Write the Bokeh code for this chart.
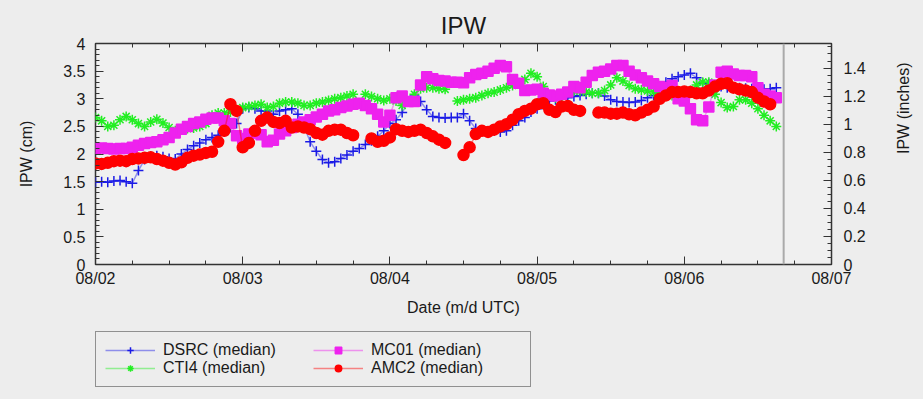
import numpy as np
from bokeh.plotting import figure
from bokeh.layouts import column
from bokeh.models import (ColumnDataSource, LinearAxis, Range1d, FixedTicker, Span,
                          Legend, LegendItem, CustomJSTickFormatter)
from bokeh.embed import file_html
from bokeh.resources import INLINE

nan = float("nan")

# time axis: hours since 08/02 00 UTC
hours = list(range(112))
day_ticks = [0, 24, 48, 72, 96, 120]
day_labels = ["08/02", "08/03", "08/04", "08/05", "08/06", "08/07"]
minor_ticks = list(range(0, 121, 6))
now_hour = 112.2

cm_ticks = [0, 0.5, 1, 1.5, 2, 2.5, 3, 3.5, 4]
inch_ticks = [0, 0.2, 0.4, 0.6, 0.8, 1.0, 1.2, 1.4]

dsrc = [1.49, 1.50, 1.49, 1.51, 1.52, 1.50, 1.47, 1.70, 1.90, 1.95,
        1.97, 1.95, 1.92, 1.91, 2.00, 2.08, 2.15, 2.20, 2.26, 2.30,
        2.34, 2.40, 2.48, 2.55, 2.82, 2.84, 2.82, 2.78, 2.78, 2.72,
        2.78, 2.80, 2.82, 2.72, 2.50, 2.22, 2.05, 1.90, 1.84, 1.86,
        1.92, 1.98, 2.05, 2.10, 2.17, 2.24, 2.32, 2.42, 2.55, 2.62,
        2.75, 2.95, 3.05, 2.95, 2.80, 2.68, 2.66, 2.65, 2.66, 2.66,
        2.73, 2.60, 2.46, 2.42, 2.41, 2.42, 2.40, 2.42, 2.52, 2.60,
        2.66, 2.76, 2.82, 2.90, 2.96, 2.98, 3.00, 3.02, 3.04, 3.06,
        3.08, 3.10, 3.10, 3.05, 2.98, 2.95, 2.94, 2.93, 2.94, 2.97,
        3.02, 3.06, 3.12, 3.30, 3.36, 3.40, 3.43, 3.46, 3.38, 3.28,
        3.27, 3.24, 3.22, 3.20, 3.21, 3.20, 3.19, 3.18, 3.18, 3.17,
        3.18, 3.20]

cti4 = [2.66, 2.60, 2.50, 2.52, 2.62, 2.68, 2.62, 2.55, 2.50, 2.58,
        2.63, 2.56, 2.48, 2.42, 2.44, 2.46, 2.47, 2.50, 2.55, 2.70,
        2.74, 2.74, 2.76, 2.80, 2.84, 2.86, 2.88, 2.90, 2.84, 2.86,
        2.92, 2.94, 2.94, 2.92, 2.88, 2.88, 2.92, 2.94, 2.97, 3.00,
        3.02, 3.05, 3.08, nan, 3.08, 3.04, 3.00, 2.97, 3.00, 2.96,
        2.88, 2.95, 3.08, 3.18, 3.20, 3.20, 3.18, 3.17, nan, 2.96,
        2.98, 3.00, 3.02, 3.06, 3.10, 3.12, 3.16, 3.20, 3.24, 3.28,
        3.35, 3.46, 3.40, 3.22, 3.05, 3.02, 3.05, 3.12, 3.14, 3.14,
        3.12, 3.10, 3.10, 3.15, 3.25, 3.38, 3.32, 3.24, 3.18, 3.16,
        3.14, 3.12, 3.10, 3.08, 3.06, 3.05, 3.08, 3.15, 3.25, 3.30,
        3.30, 3.08, 2.93, 2.84, 2.86, 2.98, 2.98, 2.92, 2.82, 2.70,
        2.60, 2.50]

mc01 = [2.10, 2.11, 2.10, 2.09, 2.10, 2.10, 2.12, 2.16, 2.19, 2.21,
        2.22, 2.26, 2.30, 2.38, 2.45, 2.50, 2.55, 2.58, 2.63, 2.65,
        2.65, 2.60, 2.55, 2.33, 2.28, 2.36, 2.38, 2.35, 2.22, 2.25,
        2.36, 2.42, 2.48, 2.54, 2.58, 2.62, 2.67, 2.72, 2.78, 2.80,
        2.84, 2.87, 2.90, 2.92, 2.88, 2.82, 2.72, 2.58, 2.70, 3.02,
        3.05, 2.95, 2.95, 3.25, 3.40, 3.36, 3.33, 3.32, 3.30, 3.30,
        3.29, 3.38, 3.44, 3.46, 3.50, 3.55, 3.60, 3.58, 3.35, 3.28,
        3.15, 3.16, 3.17, 3.10, 3.07, 3.05, 3.08, 3.12, 3.22, 3.20,
        3.30, 3.42, 3.48, 3.50, 3.54, 3.60, 3.60, 3.50, 3.43, 3.38,
        3.32, 3.27, 3.22, 3.20, 3.24, 3.00, 2.96, 2.82, 2.62, 2.60,
        2.85, 3.25, 3.48, 3.50, 3.45, 3.42, 3.42, 3.40, 3.20, 3.08,
        3.05, 3.02]

amc2 = [1.83, 1.82, 1.84, 1.87, 1.88, 1.87, 1.91, 1.92, 1.93, 1.94,
        1.91, 1.88, 1.84, 1.81, 1.85, 1.93, 1.97, 1.99, 2.02, 2.04,
        2.22, 2.42, 2.90, 2.78, 2.12, 2.20, 2.42, 2.60, 2.66, 2.58,
        2.56, 2.60, 2.48, 2.50, 2.48, 2.45, 2.38, 2.35, 2.42, 2.44,
        2.44, 2.38, 2.34, nan, nan, 2.28, 2.22, 2.24, 2.30, 2.45,
        2.42, 2.40, 2.42, 2.44, 2.38, 2.32, 2.26, 2.20, nan, nan,
        1.98, 2.12, 2.36, 2.42, 2.40, 2.44, 2.50, 2.54, 2.62, 2.72,
        2.78, 2.82, 2.90, 2.92, 2.80, 2.76, 2.86, 2.87, 2.80, 2.78,
        nan, nan, 2.75, 2.75, 2.73, 2.73, 2.75, 2.72, 2.70, 2.75,
        2.80, 2.86, 3.00, 3.06, 3.12, 3.12, 3.13, 3.12, 3.10, 3.10,
        3.15, 3.22, 3.27, 3.28, 3.20, 3.17, 3.15, 3.12, 3.02, 2.95,
        2.90, nan]

series = [
    ("DSRC (median)", dsrc, "#1a1ae6", "cross", 10),
    ("CTI4 (median)", cti4, "#22ee22", "asterisk", 10),
    ("MC01 (median)", mc01, "#ee22ee", "square", 10),
    ("AMC2 (median)", amc2, "#ff0000", "circle", 11),
]

FONT = "Liberation Sans"
PAGE_BG = "#ededed"
TXT = "#1a1a1a"

p = figure(width=923, height=322, output_backend="svg", toolbar_location=None,
           x_range=Range1d(0, 120), y_range=Range1d(0, 4),
           min_border_left=95, min_border_right=92, min_border_top=43,
           min_border_bottom=58)
p.extra_y_ranges = {"inches": Range1d(0, 4 / 2.54)}

p.background_fill_color = "#f0f0f0"
p.border_fill_color = PAGE_BG
p.outline_line_color = "#333333"
p.outline_line_width = 1.5
p.xgrid.grid_line_color = None
p.ygrid.grid_line_color = None

p.title.text = "IPW"
p.title.align = "center"
p.title.vertical_align = "middle"
p.title.standoff = 8
p.title.text_font = FONT
p.title.text_font_size = "24px"
p.title.text_font_style = "normal"
p.title.text_color = TXT

# separate strip below the chart that holds the key
lf = figure(width=923, height=77, output_backend="svg", toolbar_location=None,
            x_axis_type=None, y_axis_type=None, min_border=0,
            x_range=Range1d(-3, -2), y_range=Range1d(-3, -2))
lf.outline_line_color = None
lf.background_fill_color = PAGE_BG
lf.border_fill_color = PAGE_BG

items = []
for name, vals, color, marker, size in series:
    src = ColumnDataSource(dict(x=hours, y=np.array(vals, dtype=float)))
    p.line("x", "y", source=src, line_color=color, line_alpha=0.45, line_width=1.5)
    p.scatter("x", "y", source=src, marker=marker, size=size,
              line_color=color, fill_color=color, line_width=1.5)
    kl = lf.line("x", "y", source=src, line_color=color, line_alpha=0.45, line_width=1.5)
    ks = lf.scatter("x", "y", source=src, marker=marker, size=size - 2,
                    line_color=color, fill_color=color, line_width=1.5)
    items.append(LegendItem(label=name, renderers=[kl, ks]))

p.add_layout(Span(location=now_hour, dimension="height", line_color="#aaaaaa",
                  line_width=2))

label_js = "var m = " + str(dict(zip(day_ticks, day_labels))).replace("'", '"') + \
           "; return m[Math.round(tick)] || '';"
num_js = "return String(Math.round(tick*100)/100);"


def style_axis(ax):
    ax.axis_line_color = None
    ax.major_tick_line_color = "#333333"
    ax.minor_tick_line_color = "#333333"
    ax.major_tick_in = 8
    ax.major_tick_out = 0
    ax.minor_tick_in = 4
    ax.minor_tick_out = 0
    ax.major_label_text_font = FONT
    ax.major_label_text_font_size = "16px"
    ax.major_label_text_color = TXT
    ax.axis_label_text_font = FONT
    ax.axis_label_text_font_size = "16px"
    ax.axis_label_text_font_style = "normal"
    ax.axis_label_text_color = TXT


xa = p.xaxis[0]
xa.ticker = FixedTicker(ticks=day_ticks, minor_ticks=minor_ticks)
xa.formatter = CustomJSTickFormatter(code=label_js)
xa.axis_label = "Date (m/d UTC)"
style_axis(xa)
xa.major_label_standoff = 5
xa.axis_label_standoff = 9

top = LinearAxis(ticker=FixedTicker(ticks=day_ticks, minor_ticks=minor_ticks),
                 formatter=CustomJSTickFormatter(code="return '';"))
style_axis(top)
top.major_label_standoff = 0
p.add_layout(top, "above")

ya = p.yaxis[0]
ya.ticker = FixedTicker(ticks=cm_ticks, minor_ticks=[i / 10 for i in range(41)])
ya.formatter = CustomJSTickFormatter(code=num_js)
ya.axis_label = "IPW (cm)"
style_axis(ya)
ya.major_label_standoff = 10
ya.axis_label_standoff = 25

ra = LinearAxis(y_range_name="inches", axis_label="IPW (inches)",
                ticker=FixedTicker(ticks=inch_ticks, minor_ticks=[i / 20 for i in range(32)]),
                formatter=CustomJSTickFormatter(code=num_js))
style_axis(ra)
ra.major_label_standoff = 12
ra.axis_label_standoff = 35
ra.axis_label_orientation = np.pi / 2
p.add_layout(ra, "right")

legend = Legend(items=items, nrows=2, orientation="vertical", location=(0, 12))
legend.label_text_font = FONT
legend.label_text_font_size = "16px"
legend.label_text_color = TXT
legend.glyph_width = 50
legend.glyph_height = 16
legend.label_height = 16
legend.label_width = 150
legend.label_standoff = 8
legend.spacing = 0
legend.padding = 9
legend.margin = 0
legend.border_line_color = "#333333"
legend.border_line_width = 1.5
legend.background_fill_color = PAGE_BG
legend.background_fill_alpha = 1.0
lf.add_layout(legend, "center")

page = column(p, lf, spacing=0)

html = file_html(page, INLINE)
html = html.replace("</head>", "<style>body{background:%s;}</style></head>" % PAGE_BG)
open("out.html", "w").write(html)
